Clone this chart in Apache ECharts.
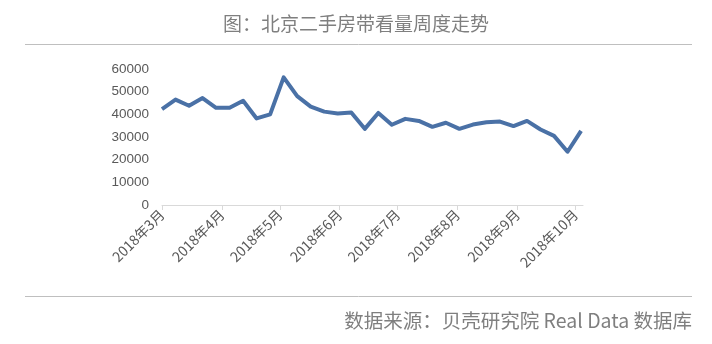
<!DOCTYPE html>
<html>
<head>
<meta charset="utf-8">
<script src="https://cdn.jsdelivr.net/npm/echarts@6/dist/echarts.min.js"></script>
<style>
html,body{margin:0;padding:0;background:#fff;}
#c{width:712px;height:344px;}
</style>
</head>
<body>
<div id="c"></div>
<script>
var titleText = '图：北京二手房带看量周度走势';
var sourceText = '数据来源：贝壳研究院 Real Data 数据库';
var weekDates = ['2018-03-01','2018-03-08','2018-03-15','2018-03-22','2018-03-29',
  '2018-04-05','2018-04-12','2018-04-19','2018-04-26',
  '2018-05-03','2018-05-10','2018-05-17','2018-05-24','2018-05-31',
  '2018-06-07','2018-06-14','2018-06-21','2018-06-28',
  '2018-07-05','2018-07-12','2018-07-19','2018-07-26',
  '2018-08-02','2018-08-09','2018-08-16','2018-08-23','2018-08-30',
  '2018-09-06','2018-09-13','2018-09-20','2018-09-27',
  '2018-10-04'];
var viewings = [42300,46500,43800,47200,42900,42900,46000,38200,40000,
  56300,48000,43400,41200,40400,40800,33600,40600,35400,38000,37100,
  34500,36300,33600,35500,36500,36800,34800,37100,33300,30500,23500,32700];
var monthTicks = ['2018-03-01','2018-04-01','2018-05-01','2018-06-01','2018-07-01','2018-08-01','2018-09-01','2018-10-01'];
var monthLabels = ['2018年3月','2018年4月','2018年5月','2018年6月','2018年7月','2018年8月','2018年9月','2018年10月'];
var axisStart = '2018-03-01';
var axisEnd = '2018-10-05';
var yTicks = [0,10000,20000,30000,40000,50000,60000];

var DAY = 86400000;
function ts(s){var p=s.split('-');return Date.UTC(+p[0],+p[1]-1,+p[2])/DAY;}
var tickDays = monthTicks.map(ts);
var labelMap = {};
tickDays.forEach(function(t,i){labelMap[t]=monthLabels[i];});

var chart = echarts.init(document.getElementById('c'));
var gray = '#595959';
chart.setOption({
  animation:false,
  backgroundColor:'#fff',
  title:{text:titleText,left:'center',top:9,
    textStyle:{color:'#7f7f7f',fontSize:19,fontWeight:'normal',fontFamily:'Noto Sans CJK SC'}},
  graphic:[
    {type:'line',shape:{x1:25,y1:44.5,x2:692,y2:44.5},style:{stroke:'#bfbfbf',lineWidth:1}},
    {type:'line',shape:{x1:25,y1:296.5,x2:692,y2:296.5},style:{stroke:'#bfbfbf',lineWidth:1}},
    {type:'text',right:20,top:311,style:{text:sourceText,fill:'#7f7f7f',fontSize:19.5,fontFamily:'Noto Sans CJK SC'}}
  ],
  grid:{left:162,right:129,top:69,bottom:139,containLabel:false},
  xAxis:{
    type:'value',
    min:ts(axisStart),max:ts(axisEnd),
    axisLine:{show:true,onZero:false,lineStyle:{color:'#d9d9d9',width:1}},
    axisTick:{show:true,length:5,lineStyle:{color:'#d9d9d9'},customValues:tickDays},
    axisLabel:{customValues:tickDays,rotate:45,color:gray,fontSize:14,margin:7,
      fontFamily:'Noto Sans CJK SC',
      formatter:function(v){return labelMap[Math.round(v)]||'';}},
    splitLine:{show:false}
  },
  yAxis:{
    type:'value',min:yTicks[0],max:yTicks[yTicks.length-1],interval:10000,
    axisLine:{show:false},axisTick:{show:false},
    splitLine:{show:false},
    axisLabel:{color:gray,fontSize:13.5,margin:13,fontFamily:'Liberation Sans',
      formatter:function(v){return String(v);}}
  },
  series:[{
    type:'line',
    data:weekDates.map(function(d,i){return [ts(d),viewings[i]];}),
    showSymbol:false,symbol:'none',
    lineStyle:{color:'#4a71a6',width:4,join:'round'},
    itemStyle:{color:'#4a71a6'}
  }]
});
</script>
</body>
</html>
